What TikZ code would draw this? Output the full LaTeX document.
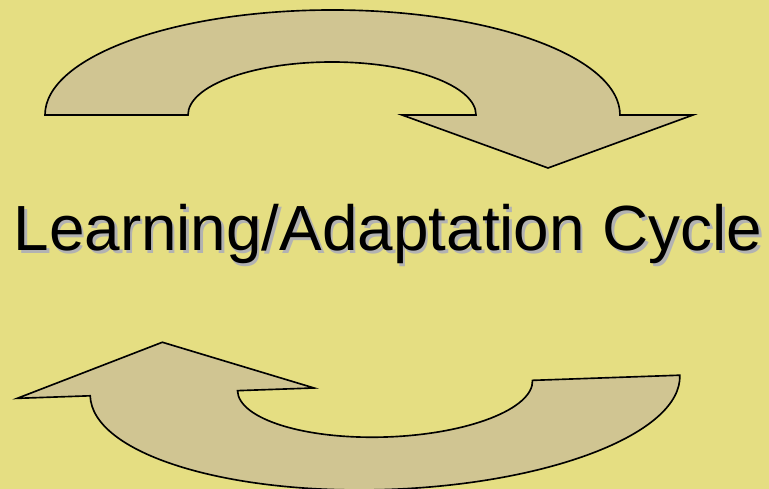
\documentclass[tikz,border=0pt]{standalone}
\usepackage{fontspec}
\setmainfont{Liberation Sans}
\usepackage{xcolor}
\definecolor{bgyellow}{HTML}{E5DE82}
\definecolor{arrowtan}{HTML}{D0C592}
\definecolor{shadowgray}{HTML}{B2B2B2}

\begin{document}
\begin{tikzpicture}[x=0.03cm, y=0.03cm,
    curvedarrow/.style={fill=arrowtan, draw=black, line width=1.4pt, line join=miter},
    cycletext/.style={inner sep=0pt, anchor=base, font=\fontsize{54.5}{60}\selectfont}]
  % background and size
  \fill[bgyellow] (0,0) rectangle (769,-489);
  \useasboundingbox (0,0) rectangle (769,-489);

  \begin{scope}[yscale=-1]
    % upper arrow, pointing down on the right
    \draw[curvedarrow] (45,115)
      arc[start angle=180, end angle=360, x radius=287.5, y radius=105]
      -- (693,115) -- (548,168) -- (402,115) -- (476,115)
      arc[start angle=0, end angle=-180, x radius=144, y radius=53]
      -- cycle;
    % lower arrow, pointing up on the left
    \begin{scope}[shift={(385,385.5)}, rotate=-2]
      \draw[curvedarrow] (-295,0)
        arc[start angle=180, end angle=0, x radius=295, y radius=104]
        -- (147.6,0)
        arc[start angle=0, end angle=180, x radius=147.6, y radius=51.5]
        -- (-71,0) -- (-221,-51) -- (-368,0) -- cycle;
    \end{scope}
  \end{scope}

  \node[cycletext, text=shadowgray] (titleshadow) at (390.5,-253.5) {Learning/Adaptation Cycle};
  \node[cycletext] (title) at (388,-251) {Learning/Adaptation Cycle};
\end{tikzpicture}
\end{document}
